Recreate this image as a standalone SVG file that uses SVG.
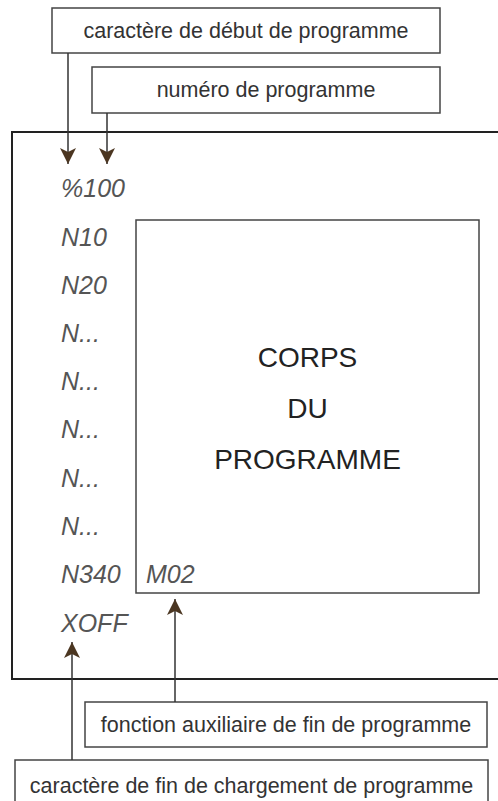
<svg xmlns="http://www.w3.org/2000/svg" width="498" height="801" viewBox="0 0 498 801">
<style>
.box{fill:#fff;stroke:#444;stroke-width:1.5}
.outer{fill:none;stroke:#222;stroke-width:2}
.lbl{font-family:"Liberation Sans",Arial,sans-serif;font-size:21.5px;fill:#333;text-anchor:middle}
.code{font-family:"Liberation Sans",Arial,sans-serif;font-size:25px;font-style:italic;fill:#555}
.big{font-family:"Liberation Sans",Arial,sans-serif;font-size:28px;fill:#222;text-anchor:middle}
.conn{stroke:#333;stroke-width:1.5;fill:none;marker-end:url(#ah)}
</style>
<defs>
<marker id="ah" viewBox="0 0 16 16" refX="16" refY="8" markerWidth="16" markerHeight="16" orient="auto" markerUnits="userSpaceOnUse">
<path d="M0,0 L16,8 L0,16 L4,8 z" fill="#4b3621"/>
</marker>
</defs>
<rect width="498" height="801" fill="#fff"/>
<g id="programme">
<rect class="outer" x="12" y="132" width="490" height="547"/>
<text class="code" x="61" y="197">%100</text>
<text class="code" x="61" y="246">N10</text>
<text class="code" x="61" y="294">N20</text>
<text class="code" x="61" y="342">N...</text>
<text class="code" x="61" y="390">N...</text>
<text class="code" x="61" y="438">N...</text>
<text class="code" x="61" y="487">N...</text>
<text class="code" x="61" y="535">N...</text>
<text class="code" x="61" y="583">N340</text>
<text class="code" x="61" y="632">XOFF</text>
</g>
<g id="corps">
<rect class="box" x="136" y="220" width="343" height="373"/>
<text class="big" x="307.5" y="367">CORPS</text>
<text class="big" x="307.5" y="418">DU</text>
<text class="big" x="307.5" y="469">PROGRAMME</text>
<text class="code" x="146" y="583">M02</text>
</g>
<g id="debut">
<rect class="box" x="52" y="8" width="388" height="45"/>
<text class="lbl" x="246" y="38">caractère de début de programme</text>
</g>
<g id="numero">
<rect class="box" x="92" y="67" width="348" height="46"/>
<text class="lbl" x="266" y="97">numéro de programme</text>
</g>
<g id="fonction">
<rect class="box" x="85" y="702" width="402" height="45"/>
<text class="lbl" x="286" y="732">fonction auxiliaire de fin de programme</text>
</g>
<g id="fin">
<rect class="box" x="15" y="760" width="473" height="45"/>
<text class="lbl" x="251.5" y="793">caractère de fin de chargement de programme</text>
</g>
<g id="connectors">
<line class="conn" x1="68" y1="53" x2="68" y2="164"/>
<line class="conn" x1="107" y1="113" x2="107" y2="164"/>
<line class="conn" x1="175" y1="702" x2="175" y2="599"/>
<line class="conn" x1="72" y1="760" x2="72" y2="642"/>
</g>
</svg>
